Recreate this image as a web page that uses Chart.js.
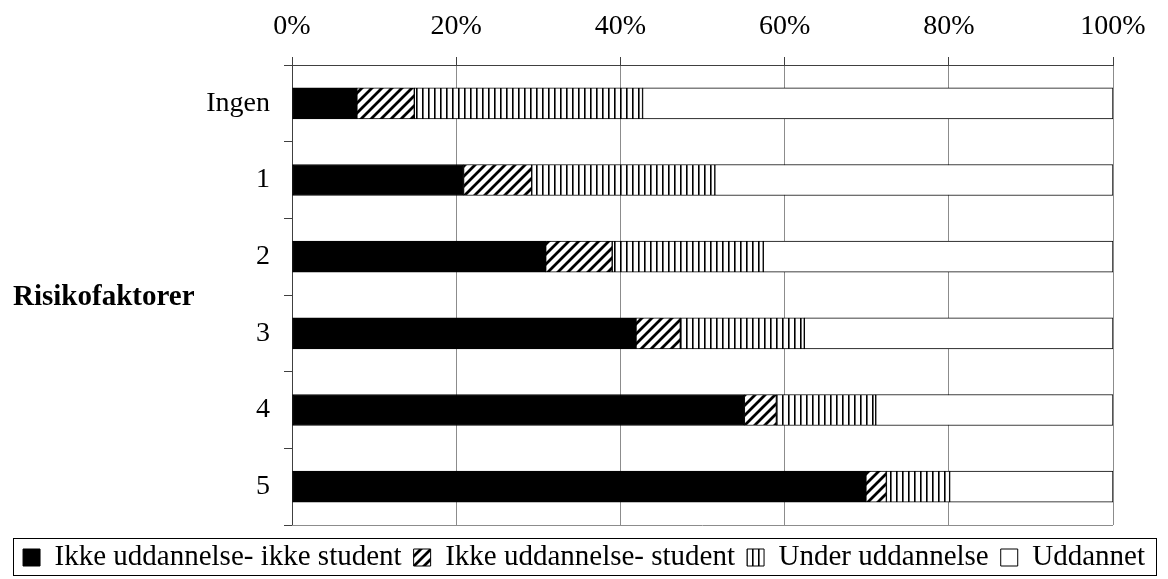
<!DOCTYPE html>
<html>
<head>
<meta charset="utf-8">
<script src="https://cdn.jsdelivr.net/npm/chart.js@4.4.1/dist/chart.umd.min.js"></script>
<style>
  body { margin: 0; background: #fff; }
  #wrap { width: 1168px; height: 579px; }
</style>
</head>
<body>
<div id="wrap"><canvas id="barChart" width="1168" height="579"></canvas></div>
<script>
// data (percent of each row)
var kategorier = ['Ingen', '1', '2', '3', '4', '5'];
var ikkeIkkeStudent = [7.9, 20.9, 30.9, 41.9, 55.1, 69.9];
var ikkeStudent = [7.0, 8.3, 8.1, 5.4, 3.9, 2.5];
var underUddannelse = [27.8, 22.3, 18.4, 15.1, 12.1, 7.7];
var uddannet = [57.3, 48.5, 42.6, 37.6, 28.9, 19.9];
var serieNavn = ['Ikke uddannelse- ikke student', 'Ikke uddannelse- student', 'Under uddannelse', 'Uddannet'];
var xTicks = [0, 20, 40, 60, 80, 100];

var serif = '"Liberation Serif", "Times New Roman", serif';

function diagonalPattern() {
  var c = document.createElement('canvas');
  c.width = 10; c.height = 10;
  var g = c.getContext('2d');
  g.fillStyle = '#fff';
  g.fillRect(0, 0, 10, 10);
  g.strokeStyle = '#000';
  g.lineWidth = 2.8;
  g.beginPath();
  g.moveTo(-2, 12); g.lineTo(12, -2);
  g.moveTo(-7, 7); g.lineTo(7, -7);
  g.moveTo(3, 17); g.lineTo(17, 3);
  g.stroke();
  return g.createPattern(c, 'repeat');
}

function verticalPattern() {
  var c = document.createElement('canvas');
  c.width = 6; c.height = 6;
  var g = c.getContext('2d');
  g.fillStyle = '#fff';
  g.fillRect(0, 0, 6, 6);
  g.fillStyle = '#000';
  g.fillRect(2, 0, 1, 6);
  g.fillStyle = '#666';
  g.fillRect(3, 0, 1, 6);
  return g.createPattern(c, 'repeat');
}

// y axis title (horizontal), bottom line and legend frame
var ekstra = {
  id: 'ekstra',
  beforeDatasetsDraw: function (chart) {
    var ctx = chart.ctx, a = chart.chartArea;
    ctx.save();
    ctx.strokeStyle = '#8c8c8c';
    ctx.lineWidth = 1;
    ctx.beginPath();
    ctx.moveTo(a.left, Math.round(a.bottom) + 0.5);
    ctx.lineTo(a.right, Math.round(a.bottom) + 0.5);
    ctx.stroke();
    ctx.restore();
  },
  afterDraw: function (chart) {
    var ctx = chart.ctx, a = chart.chartArea;
    ctx.save();
    ctx.fillStyle = '#000';
    ctx.font = 'bold 29px ' + serif;
    ctx.textAlign = 'left';
    ctx.textBaseline = 'middle';
    ctx.fillText('Risikofaktorer', 13, (a.top + a.bottom) / 2 + 3);
    ctx.strokeStyle = '#000';
    ctx.lineWidth = 1;
    ctx.strokeRect(13.5, 538.5, 1143, 37);
    ctx.restore();
  }
};

var mønstre = ['#000', diagonalPattern(), verticalPattern(), '#fff'];
var verdier = [ikkeIkkeStudent, ikkeStudent, underUddannelse, uddannet];

var datasets = [];
for (var j = 0; j < serieNavn.length; j++) {
  datasets.push({
    label: serieNavn[j],
    data: verdier[j],
    backgroundColor: mønstre[j],
    borderColor: '#000',
    borderWidth: 1,
    borderSkipped: false,
    barThickness: 31
  });
}

var barCanvas = document.getElementById('barChart').getContext('2d');
var barChart = new Chart(barCanvas, {
  type: 'bar',
  data: { labels: kategorier, datasets: datasets },
  plugins: [ekstra],
  options: {
    indexAxis: 'y',
    responsive: false,
    animation: false,
    devicePixelRatio: 1,
    layout: { padding: { top: 0, left: 0, right: 0, bottom: -3 } },
    plugins: {
      tooltip: { enabled: false },
      legend: {
        position: 'bottom',
        labels: {
          color: '#000',
          font: { family: serif, size: 29 },
          boxWidth: 17,
          boxHeight: 17,
          padding: 12
        }
      }
    },
    scales: {
      x: {
        position: 'top',
        stacked: true,
        min: 0,
        max: 100,
        afterFit: function (s) { s.height = 65; },
        afterBuildTicks: function (s) { s.ticks = xTicks.map(function (v) { return { value: v }; }); },
        ticks: {
          color: '#000',
          font: { family: serif, size: 28 },
          padding: 14,
          maxRotation: 0,
          callback: function (v) { return v + '%'; }
        },
        grid: { color: '#8c8c8c', tickColor: '#404040', tickLength: 8, lineWidth: 1 },
        border: { color: '#404040' }
      },
      // empty spacer between plot and legend
      luft: {
        type: 'linear',
        position: 'bottom',
        afterFit: function (s) { s.height = 6; },
        ticks: { display: false },
        grid: { display: false },
        border: { display: false }
      },
      y: {
        stacked: true,
        afterFit: function (s) { s.width = 292; },
        ticks: {
          color: '#000',
          font: { family: serif, size: 28 },
          padding: 14
        },
        grid: { offset: true, drawOnChartArea: false, tickLength: 8, color: '#404040' },
        border: { color: '#404040' }
      },
      høyre: {
        type: 'category',
        labels: kategorier,
        position: 'right',
        afterFit: function (s) { s.width = 55; },
        ticks: { display: false },
        grid: { display: false },
        border: { display: false }
      }
    }
  }
});
</script>
</body>
</html>
